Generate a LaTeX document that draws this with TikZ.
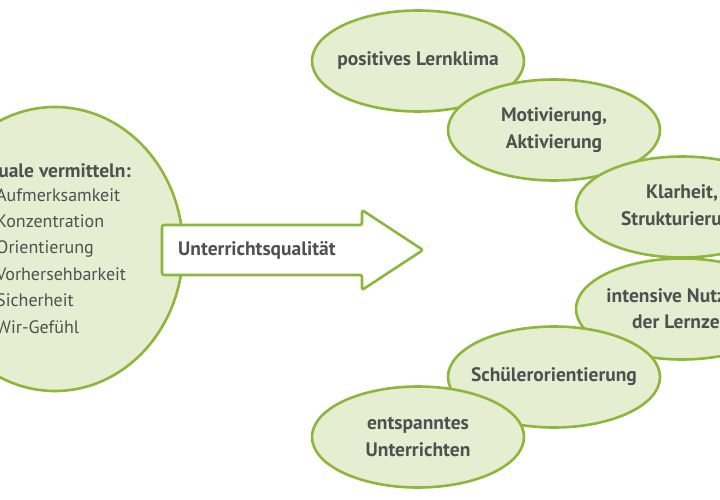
\documentclass[tikz,border=0pt]{standalone}
\usepackage{fontspec}
\setmainfont{PT Sans}
\usetikzlibrary{shapes.geometric}
\definecolor{leafgreen}{HTML}{8DB63C}
\definecolor{leaffill}{HTML}{E6EED2}
\definecolor{inkgrey}{HTML}{505050}
\tikzset{
	labelfont/.style={text=inkgrey, font=\bfseries\fontsize{19.5}{26.4}\selectfont},
	listfont/.style={text=inkgrey, font=\fontsize{18}{26.4}\selectfont},
	blob/.style={draw=leafgreen, line width=2.6pt, fill=leaffill, ellipse, inner sep=0pt},
	topic/.style={blob, minimum width=212pt, minimum height=101pt},
	topictext/.style={labelfont, align=center, inner sep=0pt}
}
\begin{document}
\begin{tikzpicture}[x=1pt,y=-1pt]
		\useasboundingbox (0,0) rectangle (720,500);
		\clip (0,0) rectangle (720,500);

		% left: rituals
		\node[blob, minimum width=256pt, minimum height=284pt] (rituale) at (55,249) {};
		\node[labelfont, anchor=base east, inner sep=0pt] (ritualtitle) at (131,177) {Rituale vermitteln:};
		\foreach \entry [count=\i] in {Aufmerksamkeit,Konzentration,Orientierung,Vorhersehbarkeit,Sicherheit,Wir-Gefühl}
			\node[listfont, anchor=base west, inner sep=0pt] (ritual\i) at (-4,{201+26.4*(\i-1)}) {\entry};

		% arrow
		\draw[draw=leafgreen, line width=2.6pt, fill=white, rounded corners=2pt, line join=round]
			(162,225) -- (362,225) -- (362,210) -- (423,250) -- (362,290) -- (362,275) -- (162,275) -- cycle;
		\node[labelfont, anchor=west, inner sep=0pt] (quality) at (178,250) {Unterrichtsqualität};

		% right: features of teaching quality
		\node[topic] (klima) at (418,61) {};
		\node[topictext] (klimatext) at (klima) {positives Lernklima};
		\node[topic] (motiv) at (554,130) {};
		\node[topictext] (motivtext) at (motiv) {Motivierung,\\Aktivierung};
		\node[topic] (klar) at (682,207) {};
		\node[topictext] (klartext) at (klar) {Klarheit,\\Strukturierung};
		\node[topic] (lernzeit) at (682,309) {};
		\node[topictext] (lernzeittext) at (lernzeit) {intensive Nutzung\\der Lernzeit};
		\node[topic] (schueler) at (554,377) {};
		\node[topictext] (schuelertext) at (schueler) {Schülerorientierung};
		\node[topic] (entspannt) at (418,437) {};
		\node[topictext] (entspannttext) at (entspannt) {entspanntes\\Unterrichten};
	\end{tikzpicture}
\end{document}
